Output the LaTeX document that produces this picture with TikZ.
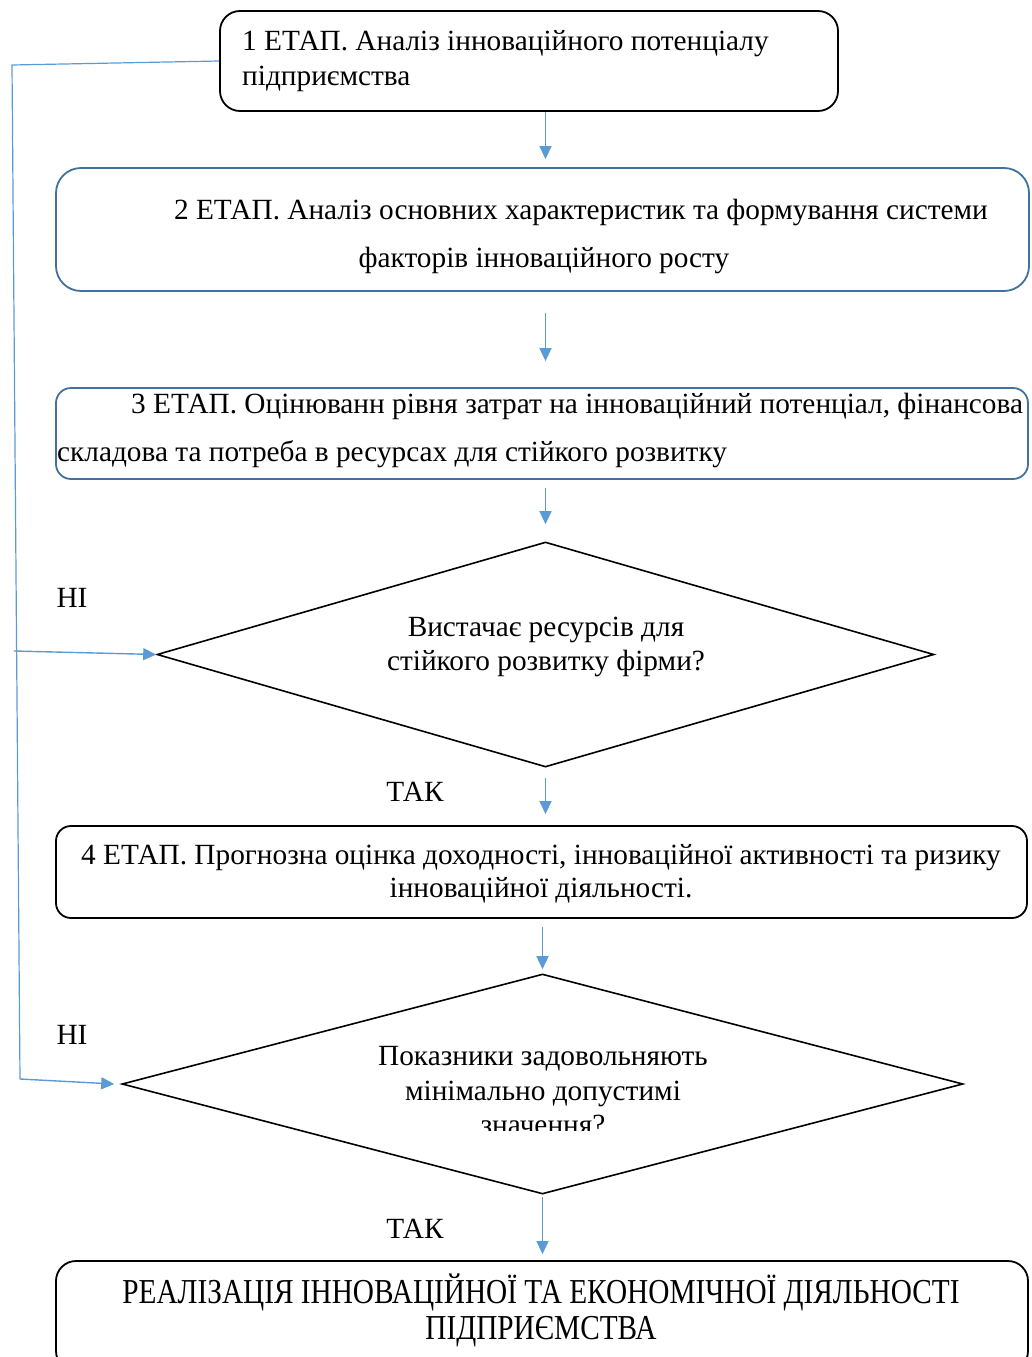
\documentclass[tikz,border=0pt]{standalone}
\usepackage{fontspec}
\setmainfont{Liberation Serif}
\usetikzlibrary{shapes.geometric,arrows.meta}
\definecolor{conn}{HTML}{5B9BD5}
\definecolor{bblue}{HTML}{41719C}
\begin{document}
\begin{tikzpicture}[x=1pt,y=-1pt,
  blackbox/.style={draw=black, line width=1.8pt, inner sep=0pt},
  bluebox/.style={draw=bblue, line width=1.8pt, inner sep=0pt},
  dia/.style={diamond, draw=black, line width=1.6pt, inner sep=0pt},
  arr/.style={draw=conn, line width=1.4pt, -{Triangle[length=13pt,width=12pt]}},
  fline/.style={draw=conn, line width=1.2pt},
  txt/.style={inner sep=0pt, font=\fontsize{29.3}{35}\selectfont},
]
\useasboundingbox (0,0) rectangle (1032,1357);

% boxes
\node[blackbox, rounded corners=20pt, minimum width=618pt, minimum height=100pt] (b1) at (529,61) {};
\node[bluebox, rounded corners=25pt, minimum width=973pt, minimum height=123pt] (b2) at (542.5,229.5) {};
\node[bluebox, rounded corners=15pt, minimum width=972pt, minimum height=91pt] (b3) at (542,433.5) {};
\node[dia, minimum width=777pt, minimum height=225pt] (d1) at (545.5,654.5) {};
\node[blackbox, rounded corners=15pt, minimum width=971pt, minimum height=92pt] (b4) at (541.5,872) {};
\node[dia, minimum width=841pt, minimum height=220pt] (d2) at (542.5,1084) {};
\node[blackbox, rounded corners=20pt, minimum width=972pt, minimum height=110pt] (b5) at (542,1316) {};

% texts
\node[txt, anchor=west, align=left] (t1) at (242,61) {1 ЕТАП. Аналіз інноваційного потенціалу\\підприємства};
\node[txt, align=center, font=\fontsize{29.3}{48}\selectfont] (t2) at (544,236) {\hspace*{74pt}2 ЕТАП. Аналіз основних характеристик та формування системи\\факторів інноваційного росту};
\node[txt, anchor=west, align=left, font=\fontsize{29.3}{48}\selectfont] (t3) at (57,430) {\hspace*{74pt}3 ЕТАП. Оцінюванн рівня затрат на інноваційний потенціал, фінансова\\складова та потреба в ресурсах для стійкого розвитку};
\node[txt, align=center, font=\fontsize{29.3}{34}\selectfont] (t4) at (546,647) {Вистачає ресурсів для\\стійкого розвитку фірми?};
\node[txt, align=center, font=\fontsize{29.3}{33}\selectfont] (t5) at (541,874) {4 ЕТАП. Прогнозна оцінка доходності, інноваційної активності та ризику\\інноваційної діяльності.};
\begin{scope}
\clip (300,1020) rectangle (800,1130);
\node[txt, align=center, font=\fontsize{29.3}{34.5}\selectfont] (t6) at (543,1091) {Показники задовольняють\\мінімально допустимі\\значення?};
\end{scope}
\node[txt, align=center, font=\fontsize{35}{36}\selectfont] (t7) at (541,1310) {\scalebox{0.837}[1]{РЕАЛІЗАЦІЯ ІННОВАЦІЙНОЇ ТА ЕКОНОМІЧНОЇ ДІЯЛЬНОСТІ}\\\scalebox{0.837}[1]{ПІДПРИЄМСТВА}};

\node[txt] (n1) at (72,598) {НІ};
\node[txt] (n2) at (72,1035) {НІ};
\node[txt] (y1) at (415,792) {ТАК};
\node[txt] (y2) at (415,1229) {ТАК};

% main arrows
\draw[arr] (b1.south -| d1.north) -- ([yshift=8pt]b2.north -| d1.north);
\draw[arr] ([yshift=-21pt]b2.south -| d1.north) -- ([yshift=26pt]b3.north -| d1.north);
\draw[arr] ([yshift=-8pt]b3.south -| d1.north) -- ([yshift=17pt]d1.north);
\draw[arr] ([yshift=-10pt]d1.south) -- ([yshift=11pt]b4.north -| d1.north);
\draw[arr] ([yshift=-8pt]b4.south -| d2.north) -- ([yshift=4pt]d2.north);
\draw[arr] ([yshift=-2pt]d2.south) -- ([yshift=6pt]b5.north -| d2.south);

% feedback
\coordinate (fa) at (12,65);
\coordinate (fm) at (14,651);
\coordinate (fb) at (20,1079);
\draw[fline] (b1.west) -- (fa) -- (fb);
\draw[arr] (fm) -- (d1.west);
\draw[arr] (fb) -- ([xshift=-7pt]d2.west);
\end{tikzpicture}
\end{document}
